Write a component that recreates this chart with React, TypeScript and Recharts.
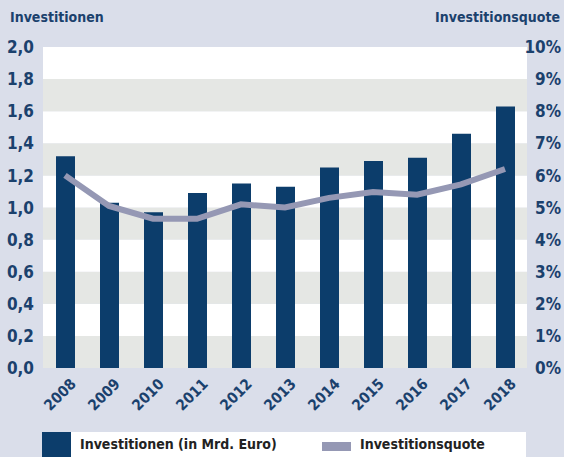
import React from 'react';
import { ComposedChart, Bar, Line, XAxis, YAxis, ReferenceArea } from 'recharts';

const years = ['2008', '2009', '2010', '2011', '2012', '2013', '2014', '2015', '2016', '2017', '2018'];
const investitionen = [1.32, 1.03, 0.97, 1.09, 1.15, 1.13, 1.25, 1.29, 1.31, 1.46, 1.63];
const quote = [6.0, 5.05, 4.65, 4.65, 5.1, 5.0, 5.3, 5.48, 5.4, 5.72, 6.2];
const leftTicks = [0, 0.2, 0.4, 0.6, 0.8, 1.0, 1.2, 1.4, 1.6, 1.8, 2.0];
const rightTicks = [0, 1, 2, 3, 4, 5, 6, 7, 8, 9, 10];

const data = years.map((year, i) => ({ year, investitionen: investitionen[i], quote: quote[i] }));

const NAVY = '#0c3d6b';
const TEXT = '#1b416d';
const LINE = '#9598b4';
const BAND = '#e5e7e4';
const BG = '#dadeea';
const FONT = '"DejaVu Sans Condensed", "DejaVu Sans", sans-serif';

const XTick = (props: any) => {
  const { x, y, payload } = props;
  const px = x + 4;
  const py = y + 1;
  return (
    <text
      x={px}
      y={py}
      transform={`rotate(-45 ${px} ${py})`}
      textAnchor="end"
      dominantBaseline="hanging"
      fill={TEXT}
      fontSize={15}
      fontWeight="bold"
      fontFamily={FONT}
    >
      {payload.value}
    </text>
  );
};

const LeftTick = (props: any) => {
  const { y, payload } = props;
  return (
    <text x={34} y={y} dy="0.36em" textAnchor="end" fill={TEXT} fontSize={17} fontWeight="bold" fontFamily={FONT}>
      {payload.value.toFixed(1).replace('.', ',')}
    </text>
  );
};

const RightTick = (props: any) => {
  const { y, payload } = props;
  return (
    <text x={561} y={y} dy="0.36em" textAnchor="end" fill={TEXT} fontSize={17} fontWeight="bold" fontFamily={FONT}>
      {payload.value}%
    </text>
  );
};

export default function App() {
  return (
    <div style={{ position: 'absolute', left: 0, top: 0, width: 564, height: 457, background: BG, fontFamily: FONT }}>
      <div style={{ position: 'absolute', left: 10, top: 9, fontSize: 14, fontWeight: 'bold', color: TEXT }}>
        Investitionen
      </div>
      <div style={{ position: 'absolute', right: 4, top: 9, fontSize: 14, fontWeight: 'bold', color: TEXT }}>
        Investitionsquote
      </div>
      <ComposedChart width={564} height={457} data={data} margin={{ top: 47, right: 0, bottom: 29, left: 0 }}>
        <XAxis dataKey="year" axisLine={false} tickLine={false} height={60} interval={0} tick={<XTick />} />
        <YAxis
          yAxisId="left"
          domain={[0, 2]}
          ticks={leftTicks}
          width={43}
          axisLine={false}
          tickLine={false}
          tick={<LeftTick />}
        />
        <YAxis
          yAxisId="right"
          orientation="right"
          domain={[0, 10]}
          ticks={rightTicks}
          width={37}
          axisLine={false}
          tickLine={false}
          tick={<RightTick />}
        />
        {leftTicks.slice(0, -1).map((t, i) => (
          <ReferenceArea
            key={i}
            yAxisId="left"
            y1={t}
            y2={leftTicks[i + 1]}
            fill={i % 2 === 0 ? BAND : '#ffffff'}
            fillOpacity={1}
            stroke="none"
          />
        ))}
        <Bar yAxisId="left" dataKey="investitionen" fill={NAVY} barSize={19} isAnimationActive={false} />
        <Line
          yAxisId="right"
          dataKey="quote"
          type="linear"
          stroke={LINE}
          strokeWidth={6}
          dot={false}
          activeDot={false}
          isAnimationActive={false}
        />
      </ComposedChart>
      <div
        style={{
          position: 'absolute',
          left: 42,
          top: 432,
          width: 484,
          height: 25,
          background: '#ffffff',
          fontSize: 14,
          fontWeight: 'bold',
          color: '#222222',
        }}
      >
        <div style={{ position: 'absolute', left: 0, top: 0, width: 29, height: 25, background: NAVY }} />
        <div style={{ position: 'absolute', left: 38, top: 4 }}>Investitionen (in Mrd. Euro)</div>
        <div style={{ position: 'absolute', left: 280, top: 10, width: 29, height: 9, background: LINE }} />
        <div style={{ position: 'absolute', left: 318, top: 4 }}>Investitionsquote</div>
      </div>
    </div>
  );
}
